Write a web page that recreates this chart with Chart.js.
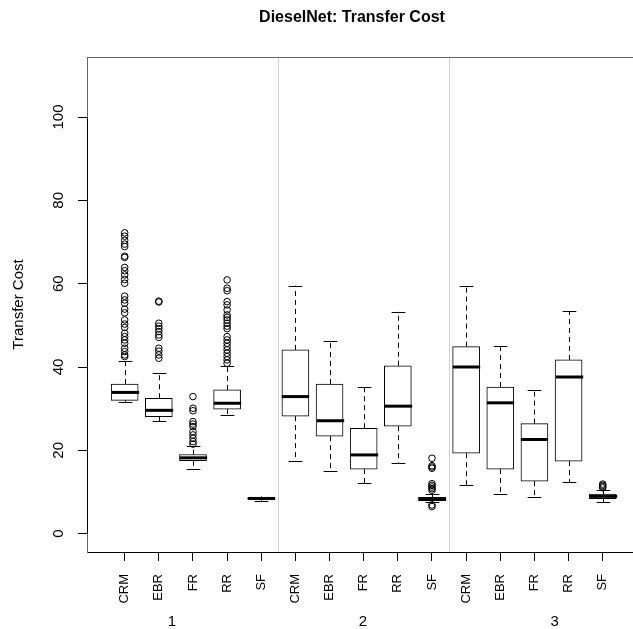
<!DOCTYPE html>
<html><head><meta charset="utf-8">
<script src="https://cdn.jsdelivr.net/npm/chart.js@4/dist/chart.umd.min.js"></script>
<style>html,body{margin:0;padding:0;overflow:hidden;background:#fff}</style>
</head><body>
<canvas id="c" width="633" height="629" style="display:block;width:633px;height:629px"></canvas>
<script>
// ---- data ----
const categories = ['CRM','EBR','FR','RR','SF'];
const groupLabels = ['1','2','3'];
const yTickValues = [0,20,40,60,80,100];
const lowerWhisker  = [31.6,27.0,15.5,28.6,7.9,  17.5,15.0,12.1,17.0,7.7,  11.7,9.5,8.7,12.3,7.5];
const lowerQuartile = [32.0,28.1,17.5,29.9,8.2,  28.2,23.4,15.5,25.8,7.9,  19.3,15.5,12.6,17.4,8.4];
const medians       = [33.9,29.6,18.2,31.3,8.45, 32.9,27.1,18.9,30.6,8.3,  40.0,31.4,22.6,37.6,8.95];
const upperQuartile = [35.9,32.5,19.0,34.5,8.7,  44.1,35.9,25.3,40.3,8.7,  44.9,35.2,26.4,41.7,9.5];
const upperWhisker  = [41.5,38.6,21.0,40.3,8.9,  59.5,46.3,35.2,53.3,9.5,  59.5,45.1,34.6,53.4,10.5];
const outliers = [
  [72.2,71.4,70.4,69.5,68.9,66.6,66.3,63.9,63.1,62.1,61.0,60.1,57.0,56.1,55.3,53.9,53.0,51.3,50.3,49.5,48.1,47.3,46.5,45.7,44.5,43.7,42.9,42.5],
  [55.8,55.6,50.5,49.8,49.2,48.5,47.7,47.1,44.5,43.8,42.9,42.1],
  [32.9,30.1,29.5,26.9,26.3,25.7,24.5,23.7,22.9,22.1,21.5],
  [60.9,58.9,58.3,55.7,54.9,53.7,52.5,51.9,51.3,50.5,49.8,49.2,47.3,46.5,45.7,44.9,44.1,43.3,42.5,41.7,40.9],
  [],
  [],[],[],[],
  [18.1,16.3,16.0,15.7,12.0,11.6,11.2,10.8,10.4,6.9,6.5],
  [],[],[],[],
  [11.9,11.6,11.3,11.0]
];
const chartTitle = 'DieselNet: Transfer Cost';

// ---- build ----
const FONT = "'Liberation Sans', Arial, Helvetica, sans-serif";
Chart.defaults.font.family = FONT;
Chart.defaults.color = '#000';

const nCat = categories.length;
const nBox = nCat * groupLabels.length;
const boxData = [];
const outlierData = [];
for (let i = 0; i < nBox; i++) {
  boxData.push({x: i, y: [lowerQuartile[i], upperQuartile[i]]});
  outliers[i].forEach(v => outlierData.push({x: i, y: v}));
}

const boxPlugin = {
  id: 'boxparts',
  beforeDatasetsDraw(chart) {
    const {ctx, chartArea: a, scales: {x}} = chart;
    ctx.save();
    ctx.strokeStyle = '#d0d0d0'; ctx.lineWidth = 1;
    for (let g = 1; g < groupLabels.length; g++) {
      const px = Math.round(x.getPixelForValue(g * nCat - 0.5)) + 0.5;
      ctx.beginPath(); ctx.moveTo(px, a.top); ctx.lineTo(px, a.bottom); ctx.stroke();
    }
    ctx.restore();
  },
  afterDatasetDraw(chart, args) {
    if (args.index !== 1) return;
    const {ctx, scales: {x, y}} = chart;
    ctx.save();
    ctx.strokeStyle = '#000';
    for (let i = 0; i < nBox; i++) {
      const cx = Math.round(x.getPixelForValue(i)) + 0.5;
      const hw = (x.getPixelForValue(i + 0.4) - x.getPixelForValue(i - 0.4)) / 2;
      const sw = hw / 2;
      ctx.lineWidth = 1; ctx.setLineDash([5, 4]);
      ctx.beginPath();
      ctx.moveTo(cx, y.getPixelForValue(upperQuartile[i]));
      ctx.lineTo(cx, y.getPixelForValue(upperWhisker[i]));
      ctx.moveTo(cx, y.getPixelForValue(lowerQuartile[i]));
      ctx.lineTo(cx, y.getPixelForValue(lowerWhisker[i]));
      ctx.stroke();
      ctx.setLineDash([]);
      ctx.beginPath();
      const uy = Math.round(y.getPixelForValue(upperWhisker[i])) + 0.5;
      const ly = Math.round(y.getPixelForValue(lowerWhisker[i])) + 0.5;
      ctx.moveTo(cx - sw, uy); ctx.lineTo(cx + sw, uy);
      ctx.moveTo(cx - sw, ly); ctx.lineTo(cx + sw, ly);
      ctx.stroke();
      ctx.lineWidth = 3;
      const my = y.getPixelForValue(medians[i]);
      ctx.beginPath(); ctx.moveTo(cx - hw, my); ctx.lineTo(cx + hw, my); ctx.stroke();
    }
    ctx.restore();
  },
  afterDraw(chart) {
    const {ctx, chartArea: a, scales: {x, y}} = chart;
    ctx.save();
    ctx.strokeStyle = '#666'; ctx.lineWidth = 1;
    ctx.beginPath(); ctx.moveTo(a.left, Math.round(a.top) + 0.5); ctx.lineTo(chart.width, Math.round(a.top) + 0.5); ctx.stroke();
    ctx.strokeStyle = '#000';
    const lx = Math.round(a.left) + 0.5;
    ctx.beginPath();
    ctx.moveTo(lx, y.getPixelForValue(yTickValues[0]));
    ctx.lineTo(lx, y.getPixelForValue(yTickValues[yTickValues.length - 1]));
    ctx.stroke();
    ctx.fillStyle = '#000';
    ctx.textAlign = 'center'; ctx.textBaseline = 'middle';
    ctx.font = 'bold 16px ' + FONT;
    ctx.fillText(chartTitle, 352, 18);
    ctx.font = '15px ' + FONT;
    const groupPos = [1.38, 6.98, 12.59];
    groupLabels.forEach((t, g) => ctx.fillText(t, x.getPixelForValue(groupPos[g]), 622));
    ctx.restore();
  }
};

new Chart(document.getElementById('c'), {
  type: 'bar',
  data: {
    datasets: [
      {
        type: 'scatter', order: 0,
        data: outlierData,
        pointStyle: 'circle', pointRadius: 3.3, pointBorderWidth: 1,
        pointBorderColor: '#000', pointBackgroundColor: 'rgba(0,0,0,0)'
      },
      {
        type: 'bar', order: 1,
        data: boxData,
        backgroundColor: '#fff', borderColor: '#000', borderWidth: 1,
        borderSkipped: false, barThickness: 27
      }
    ]
  },
  options: {
    responsive: false, animation: false,
    layout: {autoPadding: false, padding: {left: 0, right: 0, top: 57, bottom: 0}},
    plugins: {
      legend: {display: false}, tooltip: {enabled: false}, title: {display: false}
    },
    scales: {
      x: {
        type: 'linear', min: -1.1035, max: 14.887, offset: false,
        afterBuildTicks: s => { s.ticks = Array.from({length: nBox}, (_, i) => ({value: i})); },
        afterFit: s => { s.height = 77; s.paddingLeft = 0; s.paddingRight = 0; },
        grid: {offset: false, drawOnChartArea: false, drawTicks: true, tickLength: 9, color: '#000'},
        border: {display: true, color: '#000'},
        ticks: {
          autoSkip: false, minRotation: 90, maxRotation: 90, padding: 13,
          font: {size: 13, family: FONT}, color: '#000',
          callback: v => categories[v % nCat]
        }
      },
      y: {
        min: -4.4, max: 114.4,
        afterBuildTicks: s => { s.ticks = yTickValues.map(v => ({value: v})); },
        afterFit: s => { s.width = 87; s.paddingTop = 0; s.paddingBottom = 0; },
        grid: {drawOnChartArea: false, drawTicks: true, tickLength: 9, color: '#000'},
        border: {display: true, color: '#666'},
        ticks: {
          autoSkip: false, minRotation: 90, maxRotation: 90, crossAlign: 'center', padding: 7,
          font: {size: 15, family: FONT}, color: '#000'
        },
        title: {display: true, text: 'Transfer Cost', color: '#000', font: {size: 15, family: FONT}, padding: {top: 10, bottom: 0}}
      }
    }
  },
  plugins: [boxPlugin]
});
</script>
</body></html>
